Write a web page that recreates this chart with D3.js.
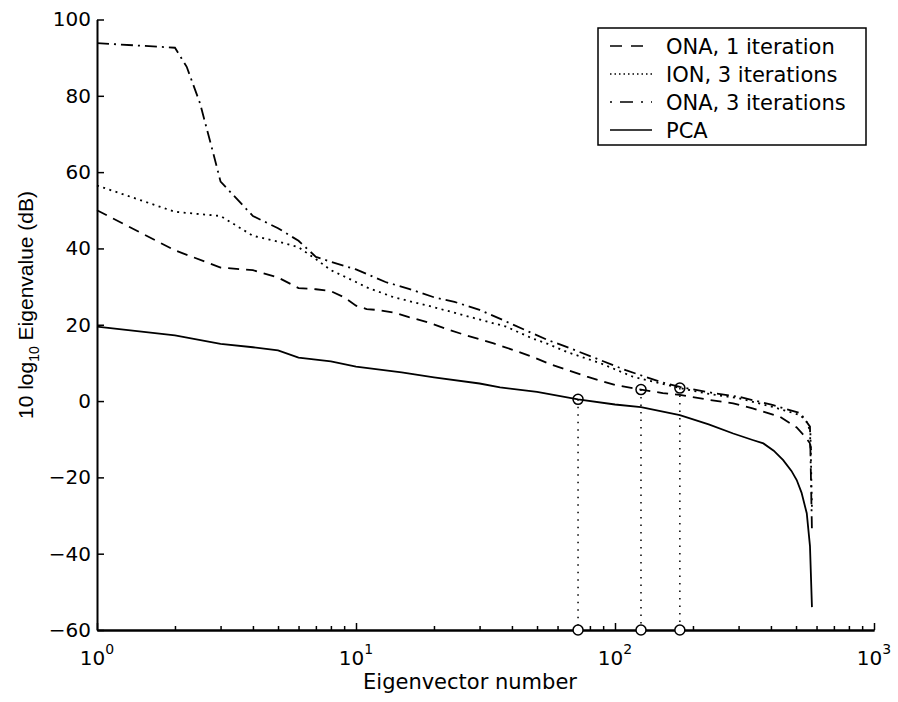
<!DOCTYPE html>
<html><head><meta charset="utf-8">
<script src="https://cdn.jsdelivr.net/npm/d3@7"></script>
<style>body{margin:0;background:#fff}</style>
</head><body><svg id="c" width="898" height="702"></svg>
<script>
// ---- data ----
const seriesNames = ["ONA, 1 iteration", "ION, 3 iterations", "ONA, 3 iterations", "PCA"];

const ona1N  = [1, 2, 3, 4, 5, 6, 7, 8, 9, 10, 11, 12, 14, 16, 19, 23, 27, 34, 40, 48, 57, 78, 100, 126, 153, 178, 232, 286, 340, 433, 503, 540, 565, 576];
const ona1Db = [50, 39.5, 35, 34.3, 32.4, 29.6, 29.3, 28.8, 27.2, 25, 24.1, 23.9, 23.2, 22, 20.6, 18.6, 17.1, 15.1, 13.5, 11.6, 9.5, 6.4, 4.2, 3.0, 2.1, 1.6, 0.3, -0.6, -1.9, -4.1, -6.9, -9.2, -11, -14];

const ionN  = [1, 2, 3, 4, 5, 6, 7, 8, 10, 11, 14, 20, 27, 38, 48, 55, 65, 88, 117, 178, 225, 302, 405, 520, 550, 568, 576];
const ionDb = [56.5, 49.6, 48.5, 43.3, 41.8, 40.3, 37.2, 34.3, 31.2, 29.8, 27.2, 24.6, 22.2, 19.5, 16.4, 15.0, 12.9, 9.9, 6.4, 3.4, 2.0, 0.7, -1.5, -3.7, -5.5, -8, -28];

const ona3N  = [1, 2, 2.22, 2.5, 2.81, 3, 4, 5, 6, 7, 8, 10, 11, 13, 16, 20, 24, 30, 37, 45, 55, 65, 88, 110, 150, 178, 225, 302, 405, 520, 566, 576];
const ona3Db = [93.8, 92.6, 87.6, 78, 65, 57.5, 48.5, 45.3, 42, 37.8, 36.5, 34.5, 33.3, 31.2, 29.4, 27.2, 26, 23.9, 21.2, 18.6, 16, 14.2, 10.7, 8.1, 5, 3.7, 2.4, 1.1, -1, -3.2, -6.7, -34];

const pcaN  = [1, 2, 3, 4, 5, 6, 8, 10, 15, 20, 30, 36, 50, 72, 100, 126, 178, 230, 286, 340, 374, 410, 446, 480, 503, 525, 550, 566, 576];
const pcaDb = [19.5, 17.2, 15.0, 14.1, 13.3, 11.4, 10.4, 9.0, 7.5, 6.2, 4.6, 3.6, 2.4, 0.45, -0.9, -1.6, -3.7, -6.1, -8.5, -10.2, -11.1, -13.0, -15.5, -18.3, -20.7, -24, -29.4, -38, -54];

const markerN  = [72, 126, 178];
const markerDb = [0.45, 3.0, 3.4];

const yTicks = [-60, -40, -20, 0, 20, 40, 60, 80, 100];
const xMajor = [1, 10, 100, 1000];
const xExp = ["0", "1", "2", "3"];
const xMinor = [2,3,4,5,6,7,8,9,20,30,40,50,60,70,80,90,200,300,400,500,600,700,800,900];
const xTitle = "Eigenvector number";
const yTitleParts = ["10 log", "10", " Eigenvalue (dB)"];

// ---- chart ----
const svg = d3.select("#c");
svg.append("rect").attr("width", 898).attr("height", 702).attr("fill", "#fff");

const x = d3.scaleLog().domain([1, 1000]).range([97, 874]);
const y = d3.scaleLinear().domain([-60, 100]).range([630, 19.5]);

const FONT = "'DejaVu Sans', sans-serif";

// y axis
const gy = svg.append("g").attr("transform", "translate(97,0)")
  .call(d3.axisLeft(y).tickValues(yTicks).tickSizeInner(-7).tickSizeOuter(0).tickPadding(6));
gy.attr("font-family", FONT).attr("font-size", 20);
gy.select(".domain").attr("stroke-width", 2);
gy.selectAll(".tick line").attr("stroke-width", 1.5);
gy.selectAll(".tick text").attr("fill", "#000");

// x axis minor
const gxm = svg.append("g").attr("transform", "translate(0,630)")
  .call(d3.axisBottom(x).tickValues(xMinor).tickSizeInner(-4).tickSizeOuter(0).tickFormat(""));
gxm.select(".domain").attr("stroke-width", 2);
gxm.selectAll(".tick line").attr("stroke-width", 1.5);

// x axis major
const gx = svg.append("g").attr("transform", "translate(0,630)")
  .call(d3.axisBottom(x).tickValues(xMajor).tickSizeInner(-7).tickSizeOuter(0).tickFormat(""));
gx.select(".domain").attr("stroke-width", 2);
gx.selectAll(".tick line").attr("stroke-width", 1.5);

const xl = svg.append("g").selectAll("text").data(xMajor).join("text")
  .attr("x", d => x(d)).attr("y", 665)
  .attr("text-anchor", "middle").attr("font-family", FONT).attr("font-size", 20);
xl.append("tspan").text("10");
xl.append("tspan").attr("dy", -11).attr("font-size", 14).text((d, i) => xExp[i]);

// titles
svg.append("text").attr("x", 470).attr("y", 689).attr("text-anchor", "middle")
  .attr("font-family", FONT).attr("font-size", 21).text(xTitle);

const yt = svg.append("text").attr("transform", "translate(33,305) rotate(-90)")
  .attr("text-anchor", "middle").attr("font-family", "'Liberation Sans', Arial, sans-serif").attr("font-size", 21);
yt.append("tspan").text(yTitleParts[0]);
yt.append("tspan").attr("dy", 6).attr("font-size", 14).text(yTitleParts[1]);
yt.append("tspan").attr("dy", -6).text(yTitleParts[2]);

// series
const styles = [
  {dash: "11,7", w: 1.8},
  {dash: "2,4.5", w: 1.8},
  {dash: "12,5,2,5", w: 1.8},
  {dash: null, w: 1.8}
];
const seriesData = [
  ona1N.map((n, i) => ({n, v: ona1Db[i]})),
  ionN.map((n, i) => ({n, v: ionDb[i]})),
  ona3N.map((n, i) => ({n, v: ona3Db[i]})),
  pcaN.map((n, i) => ({n, v: pcaDb[i]}))
];
const line = d3.line().x(d => x(d.n)).y(d => y(d.v));
seriesData.forEach((s, i) => {
  svg.append("path").datum(s).attr("d", line)
    .attr("fill", "none").attr("stroke", "#000").attr("stroke-width", styles[i].w)
    .attr("stroke-dasharray", styles[i].dash);
});

// markers
const mk = markerN.map((n, i) => ({n, v: markerDb[i]}));
svg.append("g").selectAll("line").data(mk).join("line")
  .attr("x1", d => x(d.n)).attr("x2", d => x(d.n))
  .attr("y1", d => y(d.v)).attr("y2", y(-60))
  .attr("stroke", "#000").attr("stroke-width", 1.5).attr("stroke-dasharray", "1.5,6");
svg.append("g").selectAll("circle").data(mk).join("circle")
  .attr("cx", d => x(d.n)).attr("cy", d => y(d.v)).attr("r", 5)
  .attr("fill", "none").attr("stroke", "#000").attr("stroke-width", 1.5);
svg.append("g").selectAll("circle").data(mk).join("circle")
  .attr("cx", d => x(d.n)).attr("cy", y(-60)).attr("r", 5)
  .attr("fill", "#fff").attr("stroke", "#000").attr("stroke-width", 1.5);

// legend
const lg = svg.append("g");
lg.append("rect").attr("x", 598).attr("y", 28).attr("width", 268).attr("height", 117)
  .attr("fill", "#fff").attr("stroke", "#000").attr("stroke-width", 1.5);
const legendDash = ["12,9", "1.5,3", "2,8,13,8", null];
seriesNames.forEach((name, i) => {
  const by = 53.5 + 28 * i;
  lg.append("line").attr("x1", 610).attr("x2", 652).attr("y1", by - 7.5).attr("y2", by - 7.5)
    .attr("stroke", "#000").attr("stroke-width", 1.6).attr("stroke-dasharray", legendDash[i]);
  lg.append("text").attr("x", 666).attr("y", by).attr("font-family", FONT).attr("font-size", 21).text(name);
});
</script>
</body></html>
